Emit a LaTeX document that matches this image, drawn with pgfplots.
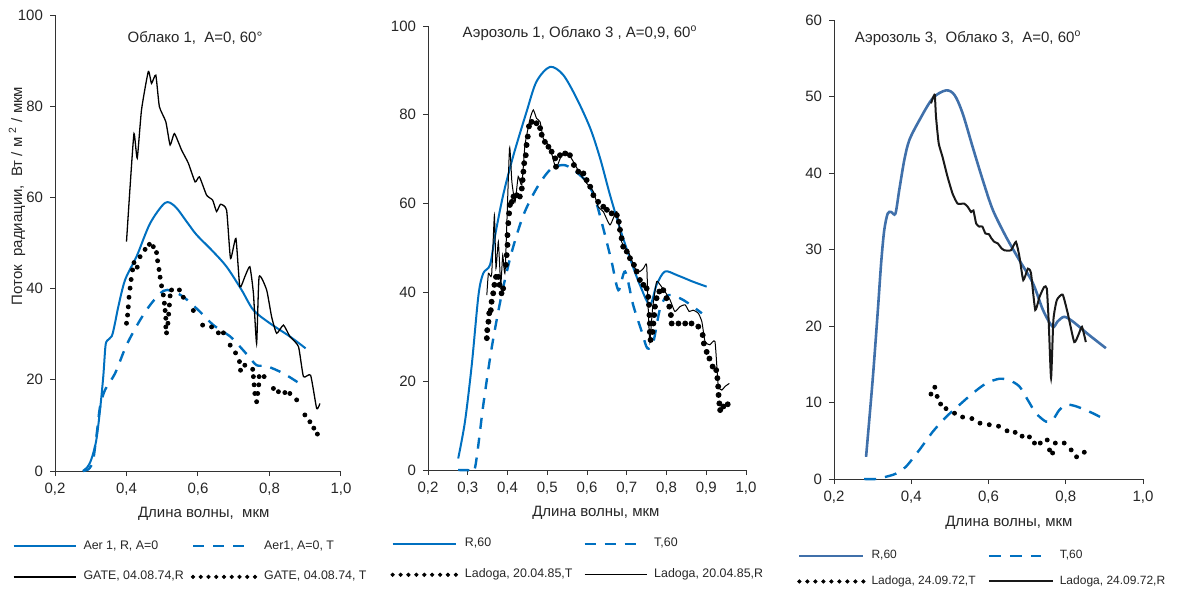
\documentclass[border=0pt]{standalone}
\usepackage{pgfplots}
\pgfplotsset{compat=1.18}
\usepackage{fontspec}
\setmainfont{Liberation Sans}
\definecolor{ablue}{RGB}{0,112,192}
\definecolor{sblue}{RGB}{64,112,170}
\definecolor{txt}{RGB}{38,38,38}
\pgfplotsset{
  panel/.style={
    scale only axis,
    axis x line*=bottom, axis y line*=left,
    axis line style={black!80, line width=0.5pt},
    tick style={black!80, line width=0.5pt},
    tick align=outside, major tick length=2.5pt,
    xmin=0.2, xmax=1.0, ymin=0,
    /pgf/number format/assume math mode=true,
    ticklabel style={font=\fontsize{7.5}{9}\selectfont, text=txt},
    xticklabel style={/pgf/number format/.cd, fixed, fixed zerofill, precision=1, use comma},
    yticklabel style={/pgf/number format/.cd, fixed, precision=0},
    label style={font=\fontsize{7.5}{9}\selectfont, text=txt},
    legend style={draw=none, fill=none, inner sep=0pt, font=\fontsize{6.2}{7}\selectfont, text=txt, nodes={inner sep=1pt}, anchor=north west},
    legend columns=2, legend cell align=left,
    clip=false,
  },
  solidleg/.style={legend image code/.code={\draw[##1] (0pt,0pt) -- (#1,0pt);}},
  dotleg/.style={legend image code/.code={\foreach \i in {0,...,8}{\fill[black] (\i*#1,0pt) circle (0.85pt);}}},
}
\newcommand{\ttl}{\fontsize{7.5}{9}\selectfont}
\begin{document}
\begin{tikzpicture}
\useasboundingbox (0,0) rectangle (588.5pt,295.5pt);
% ---------------- Panel 1
\begin{axis}[panel, at={(27.5pt,60pt)}, anchor=south west,
  width=143pt, height=228pt, ymax=100,
  xtick={0.2,0.4,0.6,0.8,1.0}, ytick={0,20,40,60,80,100},
  xlabel={Длина волны,\ \ мкм},
  xlabel style={at={(axis description cs:0.52,-0.094)}, anchor=center},
  legend style={at={(axis description cs:-0.150,-0.147)}, row sep=7.5pt, column sep=2.5pt,
    /tikz/every even column/.append style={column sep=2.5pt}},
]
\addplot[ablue, line width=1pt, smooth, tension=0.5, solidleg=31pt] coordinates {
(0.278,0) (0.290,0.8) (0.300,2.2) (0.310,4.8) (0.317,7.5) (0.326,13.4) (0.335,20.7) (0.341,27.3) (0.346,28.6) (0.359,29.6) (0.368,32.5) (0.377,36) (0.396,41.9) (0.429,47.2) (0.466,54.3) (0.508,58.8) (0.536,58) (0.570,54.5) (0.596,51.8) (0.640,48.3) (0.680,44.8) (0.722,39.7) (0.755,35.3) (0.801,32.4) (0.857,29.5) (0.901,26.9)};
\addlegendentry{Aer 1, R, A=0}
\addplot[ablue, line width=1.2pt, dash pattern=on 5.5pt off 4.5pt, smooth, tension=0.5, solidleg=27pt] coordinates {
(0.278,0) (0.292,0.3) (0.300,1) (0.307,2.4) (0.318,9) (0.326,14.1) (0.340,17.8) (0.368,21.4) (0.400,27.6) (0.438,33.1) (0.470,36.8) (0.503,39.5) (0.526,39.5) (0.559,38.2) (0.606,34.9) (0.643,32) (0.690,29.5) (0.717,27.3) (0.741,25.2) (0.764,23.2) (0.792,23) (0.839,21.4) (0.890,18.9)};
\addlegendentry{Aer1, A=0, T}
\addplot[black, line width=0.65pt, smooth, tension=0.3, solidleg=31pt] coordinates {
(0.400,50.3) (0.410,62.3) (0.421,74.0) (0.430,68.6) (0.442,79.2) (0.461,87.6) (0.470,85) (0.482,86.8) (0.492,79.9) (0.510,76.6) (0.522,71.5) (0.534,74) (0.554,70.4) (0.573,67.5) (0.592,63.4) (0.604,64.5) (0.624,60.5) (0.641,59.4) (0.652,56.9) (0.663,58.5) (0.680,57.2) (0.691,46.6) (0.706,51) (0.717,40.4) (0.731,42.6) (0.745,44.8) (0.755,39) (0.764,28) (0.771,42.6) (0.792,39.7) (0.806,33.8) (0.820,30.2) (0.839,32) (0.857,29.5) (0.881,27.3) (0.895,20.7) (0.915,21) (0.932,13.7) (0.941,14.8)};
\addlegendentry{GATE, 04.08.74,R}
\addplot[black, only marks, mark=*, mark size=1pt, dotleg=3.875pt] coordinates {
(0.400,32.4) (0.403,34.2) (0.405,36) (0.407,38.1) (0.410,40.1) (0.413,42) (0.417,44.1) (0.421,45.7) (0.430,44.7) (0.438,47) (0.452,48.6) (0.464,49.7) (0.475,49.2) (0.484,47.9) (0.487,46.1) (0.491,44.2) (0.494,42.5) (0.498,40.6) (0.503,38.6) (0.506,36.8) (0.508,35.2) (0.510,33.5) (0.510,31.6) (0.512,30.3) (0.516,32.4) (0.518,34.4) (0.520,36.4) (0.522,38.4) (0.526,39.7) (0.548,39.7) (0.559,38.1) (0.587,35.2) (0.613,32) (0.638,31.6) (0.657,30.3) (0.671,30.3) (0.690,27.6) (0.705,25.9) (0.716,24) (0.719,22.1) (0.731,23.2) (0.753,22.3) (0.755,20.7) (0.757,18.9) (0.759,17) (0.764,15.2) (0.767,17) (0.770,18.9) (0.771,20.7) (0.785,20.7) (0.811,18.1) (0.825,17.4) (0.843,17.2) (0.857,17) (0.876,15.6) (0.899,12.3) (0.913,10.8) (0.924,9.4) (0.934,8.1)};
\addlegendentry{GATE, 04.08.74, T}
\node[font=\ttl, text=txt] at (axis description cs:0.49,0.95) {Облако 1,\ \ A=0, 60°};
\node[font=\ttl, text=txt, rotate=90] at (axis description cs:-0.133,0.603) {Поток\ \ радиации,\ \ Вт / м \textsuperscript{2} / мкм};
\end{axis}
% ---------------- Panel 2
\begin{axis}[panel, at={(214pt,60.5pt)}, anchor=south west,
  width=159pt, height=222pt, ymax=100,
  xtick={0.2,0.3,0.4,0.5,0.6,0.7,0.8,0.9,1.0}, ytick={0,20,40,60,80,100},
  xlabel={Длина волны, мкм},
  xlabel style={at={(axis description cs:0.528,-0.097)}, anchor=center},
  legend style={at={(axis description cs:-0.119,-0.148)}, row sep=7.5pt, column sep=2.5pt,
    /tikz/every even column/.append style={column sep=4.5pt}},
]
\addplot[ablue, line width=1pt, smooth, tension=0.5, solidleg=31.5pt] coordinates {
(0.276,2.6) (0.293,10.9) (0.310,23.6) (0.327,39.4) (0.339,44.3) (0.356,46.2) (0.369,52.9) (0.389,61.9) (0.415,70.9) (0.448,80.7) (0.473,87.5) (0.507,90.8) (0.540,89) (0.574,83.7) (0.608,77) (0.633,70.2) (0.658,61.9) (0.683,54.4) (0.708,47.7) (0.733,41.7) (0.758,37.2) (0.775,41.7) (0.796,44.7) (0.826,43.9) (0.867,42.4) (0.901,41.3)};
\addlegendentry{R,60}
\addplot[ablue, line width=1.2pt, dash pattern=on 5.5pt off 4.5pt, smooth, tension=0.5, solidleg=30pt] coordinates {
(0.276,0) (0.300,0) (0.318,0.4) (0.339,14.6) (0.360,27.4) (0.385,39.4) (0.411,49.2) (0.440,57.4) (0.473,63.4) (0.507,67.6) (0.540,68.7) (0.566,67.6) (0.599,64.9) (0.620,61.2) (0.641,54.4) (0.662,46.9) (0.679,40.5) (0.696,44.7) (0.716,37.2) (0.738,31.1) (0.752,27.4) (0.767,28.9) (0.784,36.4) (0.805,39.4) (0.842,38.3) (0.889,35.3)};
\addlegendentry{T,60}
\addplot[black, only marks, mark=*, mark size=1.25pt, dotleg=3.95pt] coordinates {
(0.348,29.7) (0.349,31.5) (0.352,33.4) (0.354,35.3) (0.358,36) (0.360,37.9) (0.364,39.8) (0.367,41.7) (0.371,43.5) (0.377,43.5) (0.380,41.7) (0.385,39.8) (0.389,40.9) (0.396,46.2) (0.398,48.4) (0.400,50.7) (0.400,52.9) (0.402,55.6) (0.404,57.8) (0.406,59.7) (0.411,60.4) (0.415,61.6) (0.423,61.9) (0.431,61.6) (0.436,63.4) (0.438,65.3) (0.440,67.2) (0.442,69.1) (0.446,70.9) (0.448,73.2) (0.451,75.1) (0.454,77.4) (0.461,78.4) (0.473,78.1) (0.482,77) (0.486,75.5) (0.494,73.9) (0.503,72.8) (0.511,71.7) (0.520,70.2) (0.522,68.3) (0.532,70.9) (0.545,71.3) (0.557,70.9) (0.567,68.7) (0.578,67.2) (0.591,66.8) (0.599,65.3) (0.608,63.8) (0.616,61.9) (0.628,60.4) (0.641,59.3) (0.650,58.6) (0.662,57.8) (0.675,57.4) (0.680,55.9) (0.683,54.1) (0.687,52.2) (0.691,50.3) (0.700,49.2) (0.708,47.7) (0.718,46.2) (0.725,44.7) (0.733,42.8) (0.742,41.7) (0.750,40.9) (0.754,39) (0.756,37.2) (0.757,34.9) (0.758,33) (0.758,31.1) (0.760,29.3) (0.765,31.1) (0.767,33) (0.769,34.9) (0.771,36.8) (0.775,38.7) (0.782,40.2) (0.792,40.5) (0.800,38.7) (0.807,36.8) (0.811,34.9) (0.813,33) (0.830,33) (0.847,33) (0.863,33) (0.880,32.3) (0.891,30.4) (0.894,28.5) (0.901,26.6) (0.908,25.1) (0.916,23.3) (0.925,22.5) (0.928,20.7) (0.930,18.8) (0.931,16.9) (0.933,15) (0.935,13.5) (0.943,14.3) (0.954,14.8)};
\addlegendentry{Ladoga, 20.04.85,T}
\addplot[black, line width=0.5pt, smooth, tension=0.3, solidleg=31pt] coordinates {
(0.348,39.4) (0.352,44.3) (0.360,43.9) (0.367,57.4) (0.371,45.4) (0.377,51.4) (0.383,41.7) (0.388,48.4) (0.394,44.7) (0.405,72.4) (0.411,64.9) (0.419,60.4) (0.427,66.1) (0.436,64.2) (0.444,73.2) (0.457,79.2) (0.465,81.1) (0.473,79.2) (0.482,78.4) (0.490,74.7) (0.503,73.2) (0.511,71.3) (0.522,68) (0.536,70.9) (0.550,71.6) (0.566,69.4) (0.582,66.8) (0.599,64.6) (0.616,62.7) (0.628,59.3) (0.641,58.2) (0.658,55.2) (0.675,58.2) (0.687,51.4) (0.704,49.2) (0.721,45.4) (0.733,44.7) (0.742,45.4) (0.750,46.2) (0.754,36.4) (0.758,28.9) (0.765,36.4) (0.775,42.4) (0.784,41.7) (0.796,40.2) (0.809,38.3) (0.821,35.7) (0.834,36.8) (0.847,37.2) (0.857,35.7) (0.867,36) (0.880,35.3) (0.889,33.4) (0.897,28.9) (0.909,28.2) (0.922,28.9) (0.930,19.1) (0.939,18) (0.947,18.8) (0.958,19.5)};
\addlegendentry{Ladoga, 20.04.85,R}
\node[font=\ttl, text=txt] at (axis description cs:0.478,0.984) {Аэрозоль 1, Облако 3 , A=0,9, 60\textsuperscript{o}};
\end{axis}
% ---------------- Panel 3
\begin{axis}[panel, at={(417pt,56pt)}, anchor=south west,
  width=154.5pt, height=229.5pt, ymax=60,
  xtick={0.2,0.4,0.6,0.8,1.0}, ytick={0,10,20,30,40,50,60},
  xlabel={Длина волны, мкм},
  xlabel style={at={(axis description cs:0.566,-0.096)}, anchor=center},
  legend style={at={(axis description cs:-0.120,-0.150)}, row sep=5pt, column sep=2pt,
    font=\fontsize{6}{7}\selectfont,
    /tikz/every even column/.append style={column sep=5pt}},
]
\addplot[sblue, line width=1.3pt, smooth, tension=0.5, solidleg=32pt] coordinates {
(0.283,2.9) (0.300,12.9) (0.313,21.7) (0.322,28.2) (0.330,32.5) (0.339,34.7) (0.348,34.9) (0.359,34.7) (0.369,37.8) (0.382,41.7) (0.395,44.3) (0.421,46.9) (0.456,49.8) (0.490,50.8) (0.512,50.2) (0.533,47.8) (0.559,43.4) (0.585,39.1) (0.611,35.2) (0.645,31.7) (0.680,28.6) (0.715,25.6) (0.741,22.1) (0.766,19.9) (0.779,20.6) (0.796,21.2) (0.818,20.6) (0.861,18.8) (0.904,17.1)};
\addlegendentry{R,60}
\addplot[ablue, line width=1.2pt, dash pattern=on 6pt off 4.5pt, smooth, tension=0.5, solidleg=26pt] coordinates {
(0.278,0) (0.309,0) (0.335,0.3) (0.360,0.7) (0.386,1.6) (0.421,3.8) (0.456,6.2) (0.490,8.1) (0.525,9.7) (0.559,11.2) (0.594,12.5) (0.628,13.1) (0.654,12.9) (0.680,12.1) (0.702,10.3) (0.723,8.6) (0.749,7.5) (0.766,7.7) (0.783,9) (0.801,9.7) (0.827,9.5) (0.870,8.6) (0.904,7.7)};
\addlegendentry{T,60}
\addplot[black, only marks, mark=*, mark size=1pt, dotleg=4pt] coordinates {
(0.451,11.1) (0.461,12) (0.467,10.8) (0.476,9.8) (0.490,9.2) (0.512,8.6) (0.533,8.1) (0.557,7.9) (0.578,7.3) (0.602,7.1) (0.626,6.9) (0.648,6.3) (0.669,6.1) (0.687,5.6) (0.706,5.5) (0.719,4.7) (0.734,4.7) (0.752,5.1) (0.758,3.8) (0.766,3.4) (0.773,4.7) (0.796,4.7) (0.814,3.8) (0.828,2.9) (0.848,3.5)};
\addlegendentry{Ladoga, 24.09.72,T}
\addplot[black!90, line width=1pt, smooth, tension=0.3, solidleg=32pt] coordinates {
(0.451,49.1) (0.456,49.8) (0.461,50.2) (0.464,47.4) (0.471,43.9) (0.481,42.1) (0.494,39.5) (0.507,37.3) (0.520,36) (0.537,36) (0.546,35.6) (0.555,34.9) (0.561,35.1) (0.568,33.4) (0.576,33) (0.584,33) (0.592,32.1) (0.601,32) (0.607,31.5) (0.615,31) (0.624,30.8) (0.633,30.2) (0.641,29.9) (0.658,29.9) (0.671,31) (0.680,29.1) (0.690,26) (0.702,27.5) (0.710,26.9) (0.721,22.1) (0.732,23.8) (0.744,25.1) (0.751,24.9) (0.756,20.4) (0.762,13.2) (0.768,20.8) (0.777,23.4) (0.792,24.1) (0.805,21.7) (0.822,17.9) (0.834,19) (0.842,19.9) (0.852,17.9)};
\addlegendentry{Ladoga, 24.09.72,R}
\node[font=\ttl, text=txt] at (axis description cs:0.434,0.961) {Аэрозоль 3,\ \ Облако 3,\ \ A=0, 60\textsuperscript{o}};
\end{axis}
\end{tikzpicture}
\end{document}
